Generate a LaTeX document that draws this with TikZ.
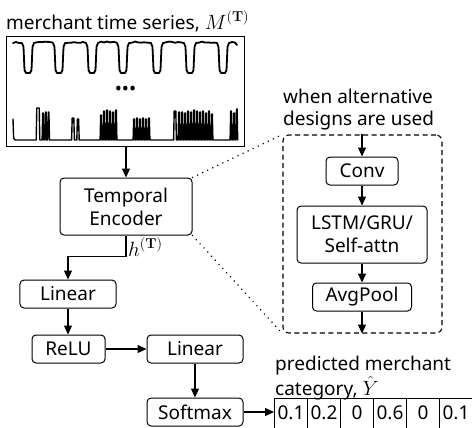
\documentclass[tikz,border=0pt]{standalone}
\usepackage[no-math]{fontspec}
\setmainfont{Noto Sans}
\usetikzlibrary{arrows.meta}

\begin{document}
\begin{tikzpicture}[x=1bp, y=-1bp,
  lbl/.style={font=\fontsize{19bp}{23bp}\selectfont, align=center, inner sep=0pt},
  block/.style={lbl, draw, line width=1bp, rounded corners=4bp},
  arr/.style={line width=1.1bp, -{Triangle[length=9bp,width=8bp]}},
  wave/.style={line width=1.8bp, line join=round, line cap=round},
  spikes/.style={line width=1.4bp, line join=round, line cap=round},
  dotline/.style={line width=1.6bp, line cap=round, dash pattern=on 0.1bp off 5.5bp},
  dashbox/.style={draw, line width=1.1bp, dash pattern=on 5bp off 3.5bp, rounded corners=6bp},
  cell/.style={lbl, draw, line width=1bp, minimum width=33bp, minimum height=30bp}]
\useasboundingbox (0,0) rectangle (472,427);

% input series
\node[lbl, anchor=base west] (title) at (6,29) {merchant time series, $M^{(\mathbf{T})}$};
\node[draw, line width=1bp, minimum width=237bp, minimum height=110bp, inner sep=0pt] (ts) at (125.5,91) {};
\node[lbl] (dots) at (125.5,91) {•••};

% periodic series (top)
\pgfmathsetseed{11}
\draw[wave] (13,43) -- (16,42) -- (19,43)
  \foreach \c in {28,59,92,123,157,190} {
    -- ({\c-6},43) -- ({\c-4.5},47) -- ({\c-3.5},70) -- ({\c-2},73) -- ({\c+2},73)
    -- ({\c+3.5},70) -- ({\c+4.5},47) -- ({\c+6},43)
    -- ({\c+9},{42.2+0.8*rand}) -- ({\c+12},{42.2+0.8*rand}) -- ({\c+15},{42.2+0.8*rand})
    -- ({\c+18},{42.2+0.8*rand}) -- ({\c+21},{42.2+0.8*rand}) -- ({\c+24},{42.2+0.8*rand})
  }
  -- (217,43) -- (218.5,47) -- (219.5,70) -- (221,73) -- (225,73) -- (226.5,70)
  -- (227.5,47) -- (229,43) -- (232,42) -- (235,42.5) -- (237,45);

% bursty series (bottom)
\draw[spikes] (13,119) -- (13.6,138) -- (15,140)
  \foreach \x/\p/\w in {38/108/1.2, 43/113/0.3, 45.8/112/0.3, 48.6/112/0.3,
      73/118/0.8, 78/119/0.6,
      101/115/0.3, 104/111/0.3, 107/110/0.3, 110/111/0.3, 113/112/0.3, 116/110/0.3,
      134/119/0.3, 137/118/0.3, 140/119/0.3, 143/118/0.3, 146/119/0.3, 149/118/0.3,
      175/111/0.8, 179/112/0.3, 182/112/0.3, 185/113/0.3, 188/111/0.3, 191/112/0.3,
      194/110/0.3, 197/111/0.3, 200/112/0.3, 203/111/0.3, 206/113/0.3, 209/111/0.3,
      212/114/0.3,
      231/111/0.3, 234/113/0.3, 236.8/109/0.3} {
    -- ({\x-\w-0.6},140) -- ({\x-\w},\p) -- ({\x+\w},\p) -- ({\x+\w+0.6},140)
  };

% main branch
\node[block, minimum width=132bp, minimum height=57bp] (enc) at (126,206.5) {Temporal\\Encoder};
\node[block, minimum width=96bp, minimum height=28bp] (lin1) at (68,294) {Linear};
\node[block, minimum width=73bp, minimum height=28bp] (relu) at (68.5,349) {ReLU};
\node[block, minimum width=96bp, minimum height=28bp] (lin2) at (195,349) {Linear};
\node[block, minimum width=96bp, minimum height=28bp] (soft) at (195,412) {Softmax};

% output distribution
\node[lbl, align=left, anchor=north west, font=\fontsize{19bp}{22bp}\selectfont] (outcap) at (275,356) {predicted merchant\\category, $\hat{Y}$};
\foreach \v [count=\i] in {0.1,0.2,0,0.6,0,0.1}
  \node[cell] (c\i) at ({258+33*\i},413) {\v};

% alternative encoder designs
\node[lbl, align=left, anchor=north west, font=\fontsize{19bp}{22bp}\selectfont] (altcap) at (283,89) {when alternative\\designs are used};
\node[dashbox, minimum width=159bp, minimum height=198bp] (alt) at (362.5,234) {};
\node[block, minimum width=72bp, minimum height=28bp] (conv) at (362,171) {Conv};
\node[block, minimum width=130bp, minimum height=57bp] (rnn) at (362,234.5) {LSTM/GRU/\\Self-attn};
\node[block, minimum width=99bp, minimum height=28bp] (pool) at (362,297) {AvgPool};

% connectors
\draw[arr] (enc.north |- ts.south) -- (enc.north);
\draw[arr] (enc.south) -- ++(0,21) coordinate (bend) -| (lin1.north);
\node[lbl, anchor=base west] (hlab) at (128,256) {$h^{(\mathbf{T})}$};
\draw[arr] (lin1.south) -- (lin1.south |- relu.north);
\draw[arr] (relu.east) -- (lin2.west);
\draw[arr] (lin2.south) -- (soft.north);
\draw[arr] (soft.east) -- (soft.east -| c1.west);

\draw[arr] (conv.north |- alt.north) -- (conv.north);
\draw[arr] (conv.south) -- (rnn.north);
\draw[arr] (rnn.south) -- (pool.north);
\draw[arr] (pool.south) -- (pool.south |- alt.south);

\draw[dotline] (enc.north east) -- (alt.north west);
\draw[dotline] (enc.south east) -- (alt.south west);
\end{tikzpicture}
\end{document}
